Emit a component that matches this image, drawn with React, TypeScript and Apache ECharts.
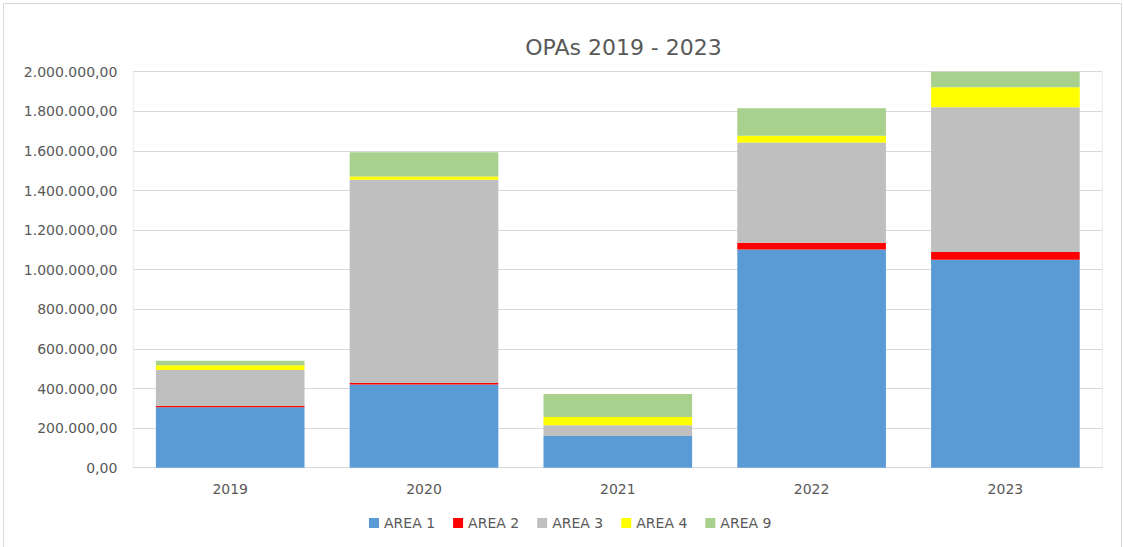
import React, { useEffect, useRef } from "react";
import * as echarts from "echarts";

const categories = ["2019", "2020", "2021", "2022", "2023"];
const seriesNames = ["AREA 1", "AREA 2", "AREA 3", "AREA 4", "AREA 9"];
const area1 = [305000, 420000, 160000, 1102000, 1050000];
const area2 = [8000, 8000, 0, 34000, 39000];
const area3 = [180000, 1026000, 54000, 506000, 732000];
const area4 = [25000, 17000, 42000, 34000, 100000];
const area9 = [22000, 122000, 116000, 140000, 79000];
const colors = ["#5b9bd5", "#ff0000", "#bfbfbf", "#ffff00", "#a9d18e"];

const fmt = (v: number) => {
  const s = Math.round(v).toString().replace(/\B(?=(\d{3})+(?!\d))/g, ".");
  return s + ",00";
};

export default function App() {
  const ref = useRef<HTMLDivElement>(null);
  useEffect(() => {
    if (!ref.current) return;
    const chart = echarts.init(ref.current, undefined, { renderer: "svg" });
    const data = [area1, area2, area3, area4, area9];
    const font = "DejaVu Sans";
    chart.setOption({
      animation: false,
      backgroundColor: "#ffffff",
      title: {
        text: "OPAs 2019 - 2023",
        left: 618.5,
        top: 31,
        textAlign: "center",
        textStyle: { fontFamily: font, fontSize: 22, fontWeight: "normal", color: "#595959" },
      },
      graphic: [
        {
          type: "rect",
          shape: { x: 3.5, y: 3.5, width: 1118, height: 560 },
          style: { fill: "none", stroke: "#d9d9d9", lineWidth: 1 },
          silent: true,
        },
      ],
      legend: {
        data: seriesNames,
        left: 364,
        top: 511,
        itemWidth: 10,
        itemHeight: 10,
        itemGap: 18,
        icon: "rect",
        textStyle: { fontFamily: font, fontSize: 14, color: "#595959" },
      },
      grid: {
        left: 133.3,
        right: 1124 - 1102.3,
        top: 71.7,
        bottom: 547 - 467.7,
        show: true,
        borderColor: "#ececec",
        borderWidth: 1,
        containLabel: false,
      },
      xAxis: {
        type: "category",
        data: categories,
        axisTick: { show: false },
        axisLine: { lineStyle: { color: "#d9d9d9", width: 1 } },
        axisLabel: { fontFamily: font, fontSize: 14, color: "#595959", margin: 14 },
      },
      yAxis: {
        type: "value",
        min: 0,
        max: 2000000,
        interval: 200000,
        axisLine: { show: false },
        axisTick: { show: false },
        splitLine: { lineStyle: { color: "#d9d9d9", width: 1 } },
        axisLabel: { fontFamily: font, fontSize: 14, color: "#595959", margin: 16, formatter: fmt },
      },
      series: seriesNames.map((name, i) => ({
        name,
        type: "bar",
        stack: "total",
        barWidth: "76.7%",
        data: data[i],
        itemStyle: { color: colors[i] },
      })),
    });
    return () => chart.dispose();
  }, []);
  return (
    <div
      ref={ref}
      style={{ position: "fixed", left: 0, top: 0, width: 1124, height: 547 }}
    />
  );
}
